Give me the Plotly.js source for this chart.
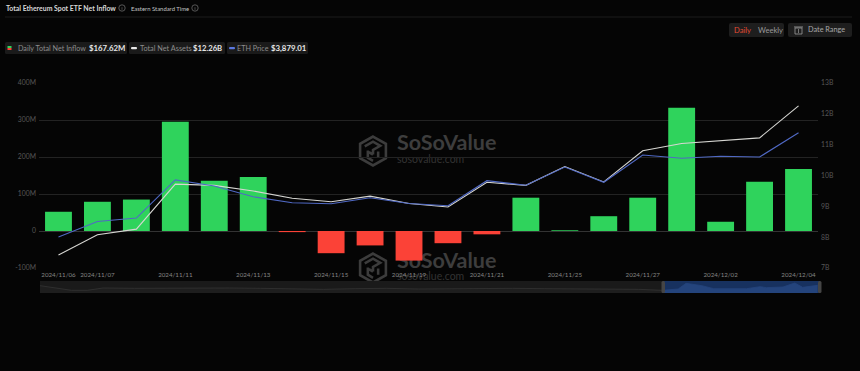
<!DOCTYPE html>
<html>
<head>
<meta charset="utf-8">
<script src="https://cdn.plot.ly/plotly-3.0.1.min.js"></script>
<style>html,body{margin:0;padding:0;background:#050505;overflow:hidden}#chart{width:860px;height:371px}</style>
</head>
<body>
<div id="chart"></div>
<script>
// ---- data ----
const dates = ["2024/11/06","2024/11/07","2024/11/08","2024/11/11","2024/11/12","2024/11/13","2024/11/14","2024/11/15","2024/11/18","2024/11/19","2024/11/20","2024/11/21","2024/11/22","2024/11/25","2024/11/26","2024/11/27","2024/11/29","2024/12/02","2024/12/03","2024/12/04"];
const dailyNetInflow = [52,79,85,295,136,146,-3,-60,-39,-80,-33,-9,90,2,40,90,333,25,133,167.62];
const totalNetAssets = [7.42,8.08,8.26,9.72,9.68,9.50,9.26,9.15,9.33,9.09,8.98,9.78,9.68,10.29,9.79,10.80,11.04,11.13,11.22,12.26];
const ethPrice = [2720,2892,2931,3354,3287,3168,3101,3090,3157,3092,3068,3346,3295,3498,3328,3631,3595,3617,3609,3879.01];
const xTickDates = ["2024/11/06","2024/11/07","2024/11/11","2024/11/13","2024/11/15","2024/11/19","2024/11/21","2024/11/25","2024/11/27","2024/12/02","2024/12/04"];
const leftTickVals = [-100,0,100,200,300,400];
const leftTickText = ["-100M","0","100M","200M","300M","400M"];
const rightTickVals = [7,8,9,10,11,12,13];
const rightTickText = ["7B","8B","9B","10B","11B","12B","13B"];
const navIndexAll = [0,2,4,6,8,12,16,20,24,28,32,36,40,44,48,52,56,60,64,68,72,76,79];
const navValuesAll = [22,14,8,8,15,14,15,14,15,14,13,11,13,14,12,13,13,14,13,12,12,11,8];
const navIndexSel = [79,81,82,84,85.5,87.5,89.7,91.4,92.2,94.3,95.8,96.8,98.7];
const navValuesSel = [8,12,29,22,13,12,13,19,16,18,30,17,23];

// ---- layout helpers: pixel position to paper fraction ----
const W = 860, H = 371;
const X = p => p / W, Y = p => 1 - p / H;
const plotDomX = [X(39), X(818)], plotDomY = [Y(268), Y(83)];
const GREEN = "#2fd35c", RED = "#fb4237";

function rr(x0, y0, x1, y1, r, fill) {
  const p = (a, b) => X(a) + "," + Y(b);
  return {type:"path", xref:"paper", yref:"paper", layer:"below", fillcolor:fill, line:{width:0},
    path:"M"+p(x0+r,y0)+" L"+p(x1-r,y0)+" Q"+p(x1,y0)+" "+p(x1,y0+r)+" L"+p(x1,y1-r)+" Q"+p(x1,y1)+" "+p(x1-r,y1)+" L"+p(x0+r,y1)+" Q"+p(x0,y1)+" "+p(x0,y1-r)+" L"+p(x0,y0+r)+" Q"+p(x0,y0)+" "+p(x0+r,y0)+" Z"};
}
function box(x0, y0, x1, y1, fill) {
  return {type:"rect", xref:"paper", yref:"paper", layer:"below", x0:X(x0), x1:X(x1), y0:Y(y0), y1:Y(y1), fillcolor:fill, line:{width:0}};
}
function ring(cx, cy, r, col) {
  return {type:"circle", xref:"paper", yref:"paper", x0:X(cx-r), x1:X(cx+r), y0:Y(cy-r), y1:Y(cy+r), line:{color:col, width:0.7}};
}
function seg(x0, y0, x1, y1, col, w) {
  return {type:"line", xref:"paper", yref:"paper", x0:X(x0), x1:X(x1), y0:Y(y0), y1:Y(y1), line:{color:col, width:w}};
}
function label(text, x, y, size, color, opts) {
  return Object.assign({xref:"paper", yref:"paper", x:X(x), y:Y(y), text, showarrow:false, xanchor:"left", yanchor:"middle", borderpad:0,
    font:{family:"Lato", size, color}}, opts || {});
}

const logoSvg = "<svg xmlns='http://www.w3.org/2000/svg' viewBox='0 0 56 62'>" +
  "<path d='M28 3 L53 17 L53 45 L28 59 L3 45 L3 17 Z' fill='none' stroke='#3c3c3c' stroke-width='5'/>" +
  "<path d='M12 22 L28 13 L42 21 L28 29 L28 38 M18 30 L18 44 L28 50 M38 32 L38 44 M28 38 L20 33' fill='none' stroke='#3c3c3c' stroke-width='5'/></svg>";
const logoUri = "data:image/svg+xml;utf8," + encodeURIComponent(logoSvg);
const logoImg = (y) => ({source:logoUri, xref:"paper", yref:"paper", x:X(358), y:Y(y), sizex:X(30), sizey:32/H, xanchor:"left", yanchor:"top", sizing:"contain", layer:"below"});

const traces = [
  // watermark sits in the first subplot, so the chart is drawn over it
  {type:"scatter", mode:"text", xaxis:"x", yaxis:"y", x:[397,397], y:[145,263], text:["SoSoValue","SoSoValue"], textposition:"middle right",
   textfont:{family:"Lato", size:21.5, color:"#3d3d3d", weight:700}, hoverinfo:"skip", showlegend:false},
  {type:"scatter", mode:"text", xaxis:"x", yaxis:"y", x:[397,397], y:[160.5,277.5], text:["sosovalue.com","sosovalue.com"], textposition:"middle right",
   textfont:{family:"Lato", size:10.5, color:"#333333"}, hoverinfo:"skip", showlegend:false},
  // navigator
  {type:"scatter", mode:"lines", xaxis:"x3", yaxis:"y5", x:navIndexAll, y:navValuesAll, line:{color:"#333333", width:0.8}, fill:"tozeroy", fillcolor:"rgba(255,255,255,0.02)", hoverinfo:"skip", showlegend:false},
  {type:"scatter", mode:"lines", xaxis:"x3", yaxis:"y5", x:navIndexSel, y:navValuesSel, line:{color:"#24447c", width:0.8}, fill:"tozeroy", fillcolor:"#24447c", hoverinfo:"skip", showlegend:false},
  // chart
  {type:"bar", xaxis:"x2", yaxis:"y2", x:dates, y:dailyNetInflow, width:0.69, name:"Daily Total Net Inflow",
   marker:{color:dailyNetInflow.map(v => v >= 0 ? GREEN : RED), line:{width:0}}},
  {type:"scatter", mode:"lines", xaxis:"x2", yaxis:"y3", x:dates, y:totalNetAssets, name:"Total Net Assets", line:{color:"#d6d6d2", width:1.1}},
  {type:"scatter", mode:"lines", xaxis:"x2", yaxis:"y4", x:dates, y:ethPrice, name:"ETH Price", line:{color:"#5069c4", width:1.1}}
];

const shapes = [
  seg(5,17,852,17,"#222222",0.8),
  rr(5,42,127,54,1.5,"#1a1a1a"), rr(129,42,225,54,1.5,"#1a1a1a"), rr(227,42,308,54,1.5,"#1a1a1a"),
  box(7.5,46,11.5,48,GREEN), box(7.5,48,11.5,50,RED),
  rr(131,47,137,49.2,1,"#e8e8e8"), rr(229,47,235,49.2,1,"#5b78e0"),
  rr(729,23,784,37,2,"#1e1e1e"), rr(788,23,852,37,2,"#1e1e1e"),
  ring(122,8,3.2,"#777777"), ring(195,8,3.2,"#777777"),
  seg(122,7.2,122,9.8,"#777777",0.6), seg(195,7.2,195,9.8,"#777777",0.6),
  {type:"rect", xref:"paper", yref:"paper", x0:X(795), x1:X(802), y0:Y(28), y1:Y(34), line:{color:"#999999", width:0.8}},
  seg(794,27,803,27,"#999999",0.9), seg(798.5,29,798.5,33,"#999999",0.7),
  box(40,281,820,293,"#1a1a1a"), box(663,281,820,293,"#17315f"),
  rr(661.5,281,665,293,1.5,"#454545"), rr(818,281,821.5,293,1.5,"#454545")
];
shapes[shapes.length-2].layer = "above";
shapes[shapes.length-1].layer = "above";

const annotations = [
  label("<b>Total Ethereum Spot ETF Net Inflow</b>", 5, 8, 6.9, "#d8d8d8"),
  label("Eastern Standard Time", 129.5, 8, 5.9, "#c4c4c4"),
  label("Daily Total Net Inflow", 16.5, 48, 7.2, "#8c8c8c"),
  label("<b>$167.62M</b>", 87.5, 48, 7.8, "#e6e6e6"),
  label("Total Net Assets", 138.5, 48, 7.3, "#8c8c8c"),
  label("<b>$12.26B</b>", 191.5, 48, 7.7, "#e6e6e6"),
  label("ETH Price", 235.5, 48, 7.2, "#8c8c8c"),
  label("<b>$3,879.01</b>", 269.5, 48, 7.8, "#e6e6e6"),
  label("Daily", 732.5, 30, 7.6, "#e04a33"),
  label("Weekly", 756.5, 30, 7.6, "#9a9a9a"),
  label("Date Range", 806.5, 30, 7.3, "#a8a8a8")
];

const tickFont = {family:"Lato", size:6.8, color:"#575757"};
const layout = {
  width:W, height:H, paper_bgcolor:"#050505", plot_bgcolor:"rgba(0,0,0,0)",
  margin:{l:0,r:0,t:0,b:0}, showlegend:false, bargap:0.31, hovermode:false,
  // pixel-mapped helper axes for the watermark
  xaxis:{domain:[0,1], range:[0,W], visible:false, fixedrange:true},
  yaxis:{domain:[0,1], range:[H,0], visible:false, fixedrange:true},
  xaxis2:{domain:plotDomX, anchor:"y2", type:"category", categoryorder:"array", categoryarray:dates, range:[-0.5,19.5],
    tickmode:"array", tickvals:xTickDates, ticktext:xTickDates, showgrid:false, showline:false, ticks:"", tickangle:0, ticklabelstandoff:2,
    tickfont:{family:"Lato", size:6.2, color:"#858585"}, fixedrange:true},
  yaxis2:{domain:plotDomY, anchor:"x2", range:[-100,400], tickmode:"array", tickvals:leftTickVals, ticktext:leftTickText, ticklabelstandoff:2,
    gridcolor:"#232323", gridwidth:1, zeroline:true, zerolinecolor:"#333333", zerolinewidth:1, tickfont:tickFont, showline:false, ticks:"", fixedrange:true},
  yaxis3:{overlaying:"y2", anchor:"x2", side:"right", range:[7,13], tickmode:"array", tickvals:rightTickVals, ticktext:rightTickText, ticklabelstandoff:2,
    showgrid:false, zeroline:false, tickfont:tickFont, showline:false, ticks:"", fixedrange:true},
  yaxis4:{overlaying:"y2", anchor:"x2", side:"right", range:[2376,4431], visible:false, showgrid:false, zeroline:false, fixedrange:true},
  xaxis3:{domain:[X(40),X(820)], anchor:"y5", range:[0,99], visible:false, fixedrange:true},
  yaxis5:{domain:[Y(293),Y(281)], anchor:"x3", range:[0,36], visible:false, fixedrange:true},
  shapes, annotations,
  images:[logoImg(135), logoImg(252)]
};
Plotly.newPlot("chart", traces, layout, {displayModeBar:false, staticPlot:true});
</script>
</body>
</html>
